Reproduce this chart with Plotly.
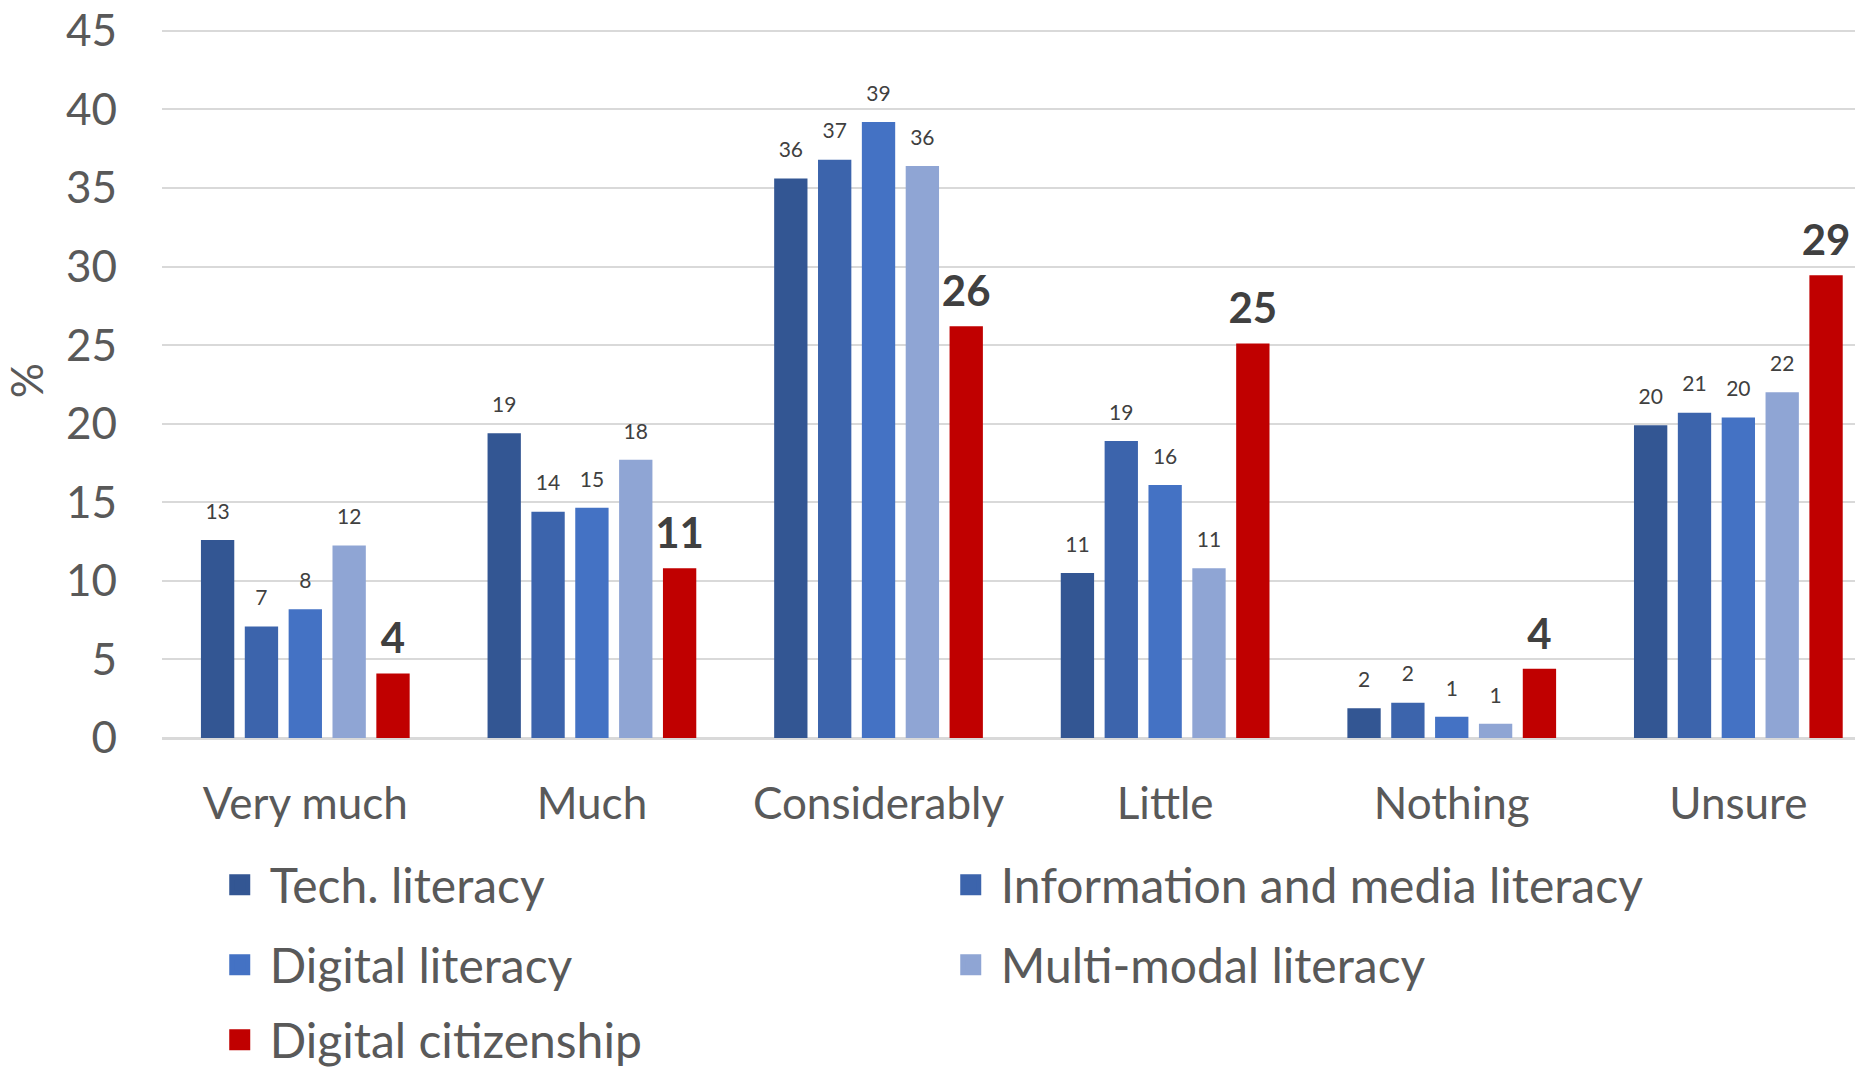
import plotly.graph_objects as go

categories = ["Very much", "Much", "Considerably", "Little", "Nothing", "Unsure"]
series_names = ["Tech. literacy", "Information and media literacy", "Digital literacy",
                "Multi-modal literacy", "Digital citizenship"]
tech = [12.6, 19.4, 35.6, 10.5, 1.9, 19.9]
info = [7.1, 14.4, 36.8, 18.9, 2.25, 20.7]
digital = [8.2, 14.65, 39.2, 16.1, 1.35, 20.4]
multi = [12.25, 17.7, 36.4, 10.8, 0.9, 22.0]
citizen = [4.1, 10.8, 26.2, 25.1, 4.4, 29.45]
colors = ["#335693", "#3C64AC", "#4472C4", "#8FA5D4", "#C00000"]
legend_rows = ["legend", "legend", "legend2", "legend2", "legend3"]

FONT = "Lato"
GAP = 0.235
fig = go.Figure()
all_series = [tech, info, digital, multi, citizen]
for i, (name, vals) in enumerate(zip(series_names, all_series)):
    fig.add_trace(go.Bar(
        name=name, x=categories, y=vals, showlegend=False,
        marker=dict(color=colors[i], line=dict(width=0)),
        hovertemplate="%{x}: %{y}<extra>" + name + "</extra>",
    ))
# value labels, grouped like the bars
for i, (name, vals) in enumerate(zip(series_names, all_series)):
    bold = (i == 4)
    fig.add_trace(go.Scatter(
        name=name, x=categories, y=vals, mode="markers+text", showlegend=False,
        offsetgroup=f"lab{i}", alignmentgroup="labels",
        marker=dict(size=14 if bold else 24, opacity=0, color=colors[i]),
        text=[str(int(v + 0.5)) for v in vals],
        texttemplate="<b>%{text}</b>" if bold else "%{text}",
        textposition="top center",
        textfont=dict(family=FONT, size=42 if bold else 21, color="#404040"),
        cliponaxis=False, hoverinfo="skip",
    ))
# legend swatches (square)
for i, name in enumerate(series_names):
    fig.add_trace(go.Scatter(
        name=name, x=[None], y=[None], mode="markers", legend=legend_rows[i],
        offsetgroup=f"leg{i}", alignmentgroup="legendswatches",
        marker=dict(symbol="square", size=16, color=colors[i],
                    line=dict(width=8, color=colors[i])),
    ))

leg_common = dict(orientation="h", x=0.0282, xanchor="left", yref="container",
                  yanchor="middle", entrywidth=666, entrywidthmode="pixels",
                  itemsizing="trace", itemwidth=50,
                  font=dict(family=FONT, size=48, color="#595959"),
                  bgcolor="rgba(0,0,0,0)")

fig.update_layout(
    width=1855, height=1070,
    paper_bgcolor="white", plot_bgcolor="white",
    barmode="group", bargap=GAP, bargroupgap=0.24,
    scattermode="group", scattergap=GAP,
    margin=dict(l=162, r=0, t=23, b=332),
    font=dict(family=FONT, color="#595959"),
    showlegend=True,
    legend=dict(leg_common, y=1 - 885 / 1070),
    legend2=dict(leg_common, y=1 - 965 / 1070),
    legend3=dict(leg_common, y=1 - 1040 / 1070),
    xaxis=dict(range=[-0.5, 5.407], showgrid=False, showline=True, linecolor="#D9D9D9",
               linewidth=2, tickfont=dict(family=FONT, size=44, color="#595959"),
               ticks="", ticklabelstandoff=26, automargin=False),
    yaxis=dict(range=[0, 45.5], tickvals=[0, 5, 10, 15, 20, 25, 30, 35, 40, 45],
               showgrid=True, gridcolor="#D9D9D9", gridwidth=2,
               zeroline=True, zerolinecolor="#D9D9D9", zerolinewidth=2,
               tickfont=dict(family=FONT, size=44, color="#595959"),
               ticks="", ticklabelstandoff=44, automargin=False,
               title=dict(text="%", font=dict(family=FONT, size=44, color="#595959"), standoff=15)),
)

fig.write_html("out.html", config={"displayModeBar": False},
               post_script="document.body.style.margin='0';")
